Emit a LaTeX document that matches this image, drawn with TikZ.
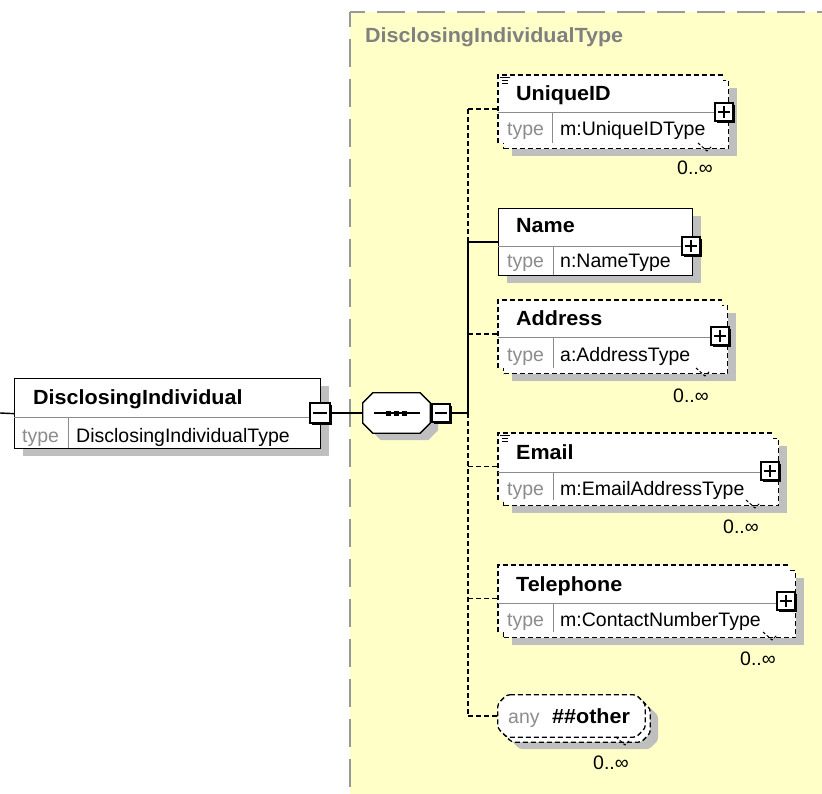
\documentclass[tikz,border=0pt]{standalone}
\usepackage{fontspec}
\setmainfont{Liberation Sans}[BoldFeatures={FakeStretch=1.05}]
\usetikzlibrary{positioning}
\usetikzlibrary{shadows}
\definecolor{schemac}{RGB}{255,255,200}
\colorlet{shadowc}{black!25}
\colorlet{framec}{black!40}
\colorlet{typec}{black!45}

% octagon outline round a node: options, node, chamfer
\newcommand{\xsdchamfer}[3][]{%
  \draw[#1] ([xshift=#3]#2.north west) -- ([xshift=-#3]#2.north east)
    -- ([yshift=-#3]#2.north east) -- ([yshift=#3]#2.south east)
    -- ([xshift=-#3]#2.south east) -- ([xshift=#3]#2.south west)
    -- ([yshift=#3]#2.south west) -- ([yshift=-#3]#2.north west) -- cycle;}

\tikzset{
  elem/.style={draw=black, fill=white, line width=1.3pt, shape=rectangle, anchor=north west, inner sep=0pt},
  optelem/.style={elem, dash pattern=on 5pt off 3pt},
  frontelem/.style={fill=white, draw=none, shape=rectangle, anchor=north west, inner sep=0pt},
  holder/.style={draw=none, shape=rectangle, inner sep=0pt},
  elemshadow/.style={drop shadow={shadow xshift=8pt, shadow yshift=-7pt, fill=shadowc, draw=none, opacity=1}},
  outline/.style={draw=black, fill=white, line width=1.3pt},
  optline/.style={draw=black, line width=1.3pt, dash pattern=on 5pt off 3pt},
  divline/.style={draw=black!45, line width=1pt},
  conn/.style={draw=black, line width=1.4pt},
  optconn/.style={conn, dash pattern=on 5pt off 3pt},
  pointer/.style={draw=black, line width=1pt, dash pattern=on 3pt off 2pt},
  typeframe/.style={draw=framec, line width=2pt, dash pattern=on 28pt off 12pt, dash phase=13pt},
  ttitle/.style={anchor=base west, inner sep=0pt, text=black!50, font=\fontsize{20.5}{24}\selectfont\bfseries},
  ename/.style={anchor=base west, inner sep=0pt, font=\fontsize{20.5}{24}\selectfont\bfseries},
  tlabel/.style={anchor=base west, inner sep=0pt, text=typec, font=\fontsize{19.5}{24}\selectfont},
  tvalue/.style={anchor=base west, inner sep=0pt, font=\fontsize{19.5}{24}\selectfont},
  multlabel/.style={tvalue},
  togglebox/.style={draw=black, fill=white, line width=1.3pt, shape=rectangle, inner sep=0pt,
    minimum width=18, minimum height=18,
    drop shadow={shadow xshift=2pt, shadow yshift=-2pt, fill=black, draw=none, opacity=1}},
  signline/.style={draw=black, line width=1.2pt},
  annline/.style={draw=black, line width=0.8pt}
}

\begin{document}
\begin{tikzpicture}[x=1pt, y=-1pt]
\useasboundingbox (0,0) rectangle (822,794);

% complex type area
\fill[schemac] (350,12) rectangle (830,800);
\draw[typeframe] (350,12) -- (830,12);
\draw[typeframe] (350,12) -- (350,800);
\node[ttitle] (typetitle) at (365,43) {DisclosingIndividualType};

% root element
\node[elem, elemshadow, minimum width=306, minimum height=70] (root) at (14,378) {};
\draw[divline] (14,417) -- (320,417);
\draw[divline] (68,417) -- (68,448);
\node[ename] (rootname) at (33,404) {DisclosingIndividual};
\node[tlabel] (roottype) at (22,442) {type};
\node[tvalue] (rootval) at (76,442) {DisclosingIndividualType};
\node[togglebox, minimum width=20, minimum height=20] (roottog) at (320,413) {};
\draw[signline] ([xshift=4pt]roottog.west) -- ([xshift=-4pt]roottog.east);

% sequence
\node[holder, minimum width=67, minimum height=40] (seq) at (396.5,413) {};
\xsdchamfer[outline, elemshadow]{seq}{10pt}
\draw[line width=1.2pt] (374,413) -- (420,413);
\foreach \dx in {388,396,404}
  \fill (\dx-2.5,410.5) rectangle (\dx+2.5,415.5);
\node[togglebox] (seqtog) at (441,413) {};
\draw[signline] ([xshift=4pt]seqtog.west) -- ([xshift=-4pt]seqtog.east);

\coordinate (rootin) at (0,413);
\coordinate (trunk) at (468,413);
\draw[conn] (rootin) -- (root.west);
\draw[conn] (roottog.east) -- (seq.west);
\draw[conn] (seqtog.east) -- (trunk);

% UniqueID
\node[optelem, elemshadow, minimum width=225, minimum height=68] (uidback) at (503,80) {};
\node[frontelem, minimum width=225, minimum height=68] (uid) at (498,75) {};
\draw[optline] (uid.south west) -- (uid.north west) -- (uid.north east);
\draw[divline] (498,113) -- (723,113);
\draw[divline] (552,113) -- (552,143);
\draw[annline] (500,77.5) -- (510,77.5) (502,80.3) -- (508,80.3) (502,83) -- (508,83);
\node[ename] (uidname) at (516,101) {UniqueID};
\node[tlabel] (uidtype) at (507,136) {type};
\node[tvalue] (uidval) at (560,136) {m:UniqueIDType};
\node[togglebox] (uidtog) at (724,112) {};
\draw[signline] ([xshift=4pt]uidtog.west) -- ([xshift=-4pt]uidtog.east)
  ([yshift=-4pt]uidtog.north) -- ([yshift=4pt]uidtog.south);
\draw[pointer] (698,143) -- (707,151) -- (712,146);
\node[multlabel] (uidmult) at (677,175) {0..∞};

% Name
\node[elem, elemshadow, minimum width=194, minimum height=67] (name) at (498,208) {};
\draw[divline] (498,247) -- (692,247);
\draw[divline] (553,247) -- (553,275);
\node[ename] (namename) at (516,233) {Name};
\node[tlabel] (nametype) at (507,268) {type};
\node[tvalue] (nameval) at (560,268) {n:NameType};
\node[togglebox] (nametog) at (691,246) {};
\draw[signline] ([xshift=4pt]nametog.west) -- ([xshift=-4pt]nametog.east)
  ([yshift=-4pt]nametog.north) -- ([yshift=4pt]nametog.south);

% Address
\node[optelem, elemshadow, minimum width=224, minimum height=68] (addrback) at (503,305) {};
\node[frontelem, minimum width=224, minimum height=68] (addr) at (498,300) {};
\draw[optline] (addr.south west) -- (addr.north west) -- (addr.north east);
\draw[divline] (498,338) -- (722,338);
\draw[divline] (553,338) -- (553,368);
\node[ename] (addrname) at (516,326) {Address};
\node[tlabel] (addrtype) at (507,361) {type};
\node[tvalue] (addrval) at (560,361) {a:AddressType};
\node[togglebox] (addrtog) at (720,336) {};
\draw[signline] ([xshift=4pt]addrtog.west) -- ([xshift=-4pt]addrtog.east)
  ([yshift=-4pt]addrtog.north) -- ([yshift=4pt]addrtog.south);
\draw[pointer] (696,368) -- (705,376) -- (710,371);
\node[multlabel] (addrmult) at (673,402) {0..∞};

% Email
\node[optelem, elemshadow, minimum width=275, minimum height=67] (mailback) at (503,438) {};
\node[frontelem, minimum width=275, minimum height=67] (mail) at (498,433) {};
\draw[optline] (mail.south west) -- (mail.north west) -- (mail.north east);
\draw[divline] (498,472) -- (773,472);
\draw[divline] (553,472) -- (553,500);
\draw[annline] (500,435.5) -- (510,435.5) (502,438.3) -- (508,438.3) (502,441) -- (508,441);
\node[ename] (mailname) at (516,459) {Email};
\node[tlabel] (mailtype) at (507,495) {type};
\node[tvalue] (mailval) at (560,495) {m:EmailAddressType};
\node[togglebox] (mailtog) at (770,471) {};
\draw[signline] ([xshift=4pt]mailtog.west) -- ([xshift=-4pt]mailtog.east)
  ([yshift=-4pt]mailtog.north) -- ([yshift=4pt]mailtog.south);
\draw[pointer] (746,500) -- (755,508) -- (760,503);
\node[multlabel] (mailmult) at (723,533) {0..∞};

% Telephone
\node[optelem, elemshadow, minimum width=292, minimum height=67] (telback) at (503,570) {};
\node[frontelem, minimum width=292, minimum height=67] (tel) at (498,565) {};
\draw[optline] (tel.south west) -- (tel.north west) -- (tel.north east);
\draw[divline] (498,603) -- (790,603);
\draw[divline] (553,603) -- (553,632);
\node[ename] (telname) at (516,591) {Telephone};
\node[tlabel] (teltype) at (507,626) {type};
\node[tvalue] (telval) at (560,626) {m:ContactNumberType};
\node[togglebox] (teltog) at (786,601) {};
\draw[signline] ([xshift=4pt]teltog.west) -- ([xshift=-4pt]teltog.east)
  ([yshift=-4pt]teltog.north) -- ([yshift=4pt]teltog.south);
\draw[pointer] (763,632) -- (772,640) -- (777,635);
\node[multlabel] (telmult) at (740,665) {0..∞};

% any ##other
\node[holder, minimum width=147, minimum height=42] (anyback) at (576.5,721) {};
\node[holder, minimum width=147, minimum height=42] (any) at (571.5,716) {};
\xsdchamfer[outline, optline, elemshadow, rounded corners=3pt]{anyback}{9pt}
\xsdchamfer[outline, optline, rounded corners=3pt]{any}{9pt}
\node[tlabel] (anylbl) at (508,723) {any};
\node[ename] (anyval) at (552,723) {\#\#other};
\draw[pointer] (616,737) -- (625,745) -- (630,740);
\node[multlabel] (anymult) at (593,769) {0..∞};

% connectors
\draw[optconn] (trunk |- uid.west) -- (trunk |- name.west);
\draw[conn] (trunk |- name.west) -- (trunk);
\draw[optconn] (trunk) -- (trunk |- any.west);
\draw[optconn] (trunk |- uid.west) -- (uid.west);
\draw[conn] (trunk |- name.west) -- (name.west);
\draw[optconn] (trunk |- addr.west) -- (addr.west);
\draw[optconn] (trunk |- mail.west) -- (mail.west);
\draw[optconn] (trunk |- tel.west) -- (tel.west);
\draw[optconn] (trunk |- any.west) -- (any.west);

\end{tikzpicture}
\end{document}
